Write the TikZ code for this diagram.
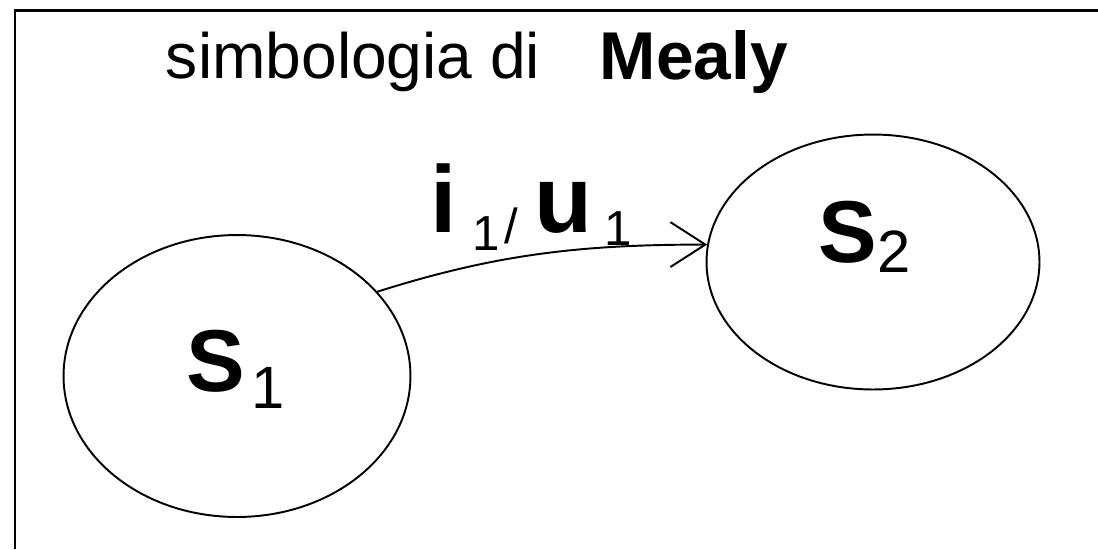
\documentclass[tikz,border=0pt]{standalone}
\usepackage{fontspec}
\setmainfont{Liberation Sans}
\usepackage{tikz}
\usetikzlibrary{positioning, arrows.meta, shapes.geometric}
\tikzset{every picture/.append style={line width=1.1pt}}
\tikzset{
  stateshape/.style={draw, ellipse, inner sep=0pt},
  lbl/.style={anchor=base west, inner sep=0pt},
  trans/.style={-{Straight Barb[length=0.7cm, width=0.9cm]}},
}
\newcommand{\titlefont}{\fontsize{36.5}{44}\selectfont}
\newcommand{\namefont}{\fontsize{38.5}{44}\selectfont\bfseries}
\newcommand{\bigfont}{\fontsize{50}{60}\selectfont\bfseries}
\newcommand{\edgefont}{\fontsize{54}{60}\selectfont\bfseries}
\newcommand{\subfont}{\fontsize{34}{40}\selectfont}
\newcommand{\edgesub}{\fontsize{28}{32}\selectfont}

\begin{document}
\begin{tikzpicture}[x=0.02cm, y=-0.02cm]
        \useasboundingbox (0,0) rectangle (1098,549);

        % ==========================================
        % Frame and title
        % ==========================================
        \draw[line width=1.7pt] (1098,10) -- (15,10) -- (15,549);
        \node[lbl] (title) at (165,78) {\titlefont simbologia di};
        \node[lbl] (mealy) at (599,79) {\namefont Mealy};

        % ==========================================
        % States
        % ==========================================
        \node[stateshape, minimum width=6.94cm, minimum height=5.64cm] (s1) at (237,376) {};
        \node[stateshape, minimum width=6.66cm, minimum height=5.1cm] (s2) at (873,262) {};

        % 1. State names
        \node[lbl] (s1name) at (186,391) {\bigfont S};
        \node[lbl] (s1sub) at (251,408) {\subfont 1};
        \node[lbl] (s2name) at (818,262) {\bigfont S};
        \node[lbl] (s2sub) at (877,272) {\subfont 2};

        % ==========================================
        % Transition s1 -> s2 with input/output
        % ==========================================
        \draw[trans] (s1.31) .. controls +(120,-38) and +(-125,0) .. (s2.174);

        \node[lbl] (inlbl) at (430,232) {\edgefont i};
        \node[lbl] (insub) at (472,250) {\edgesub 1};
        \node[lbl] (slash) at (504,243) {\edgesub /};
        \node[lbl] (outlbl) at (534,232) {\edgefont u};
        \node[lbl] (outsub) at (604,245) {\edgesub 1};

\end{tikzpicture}
\end{document}
